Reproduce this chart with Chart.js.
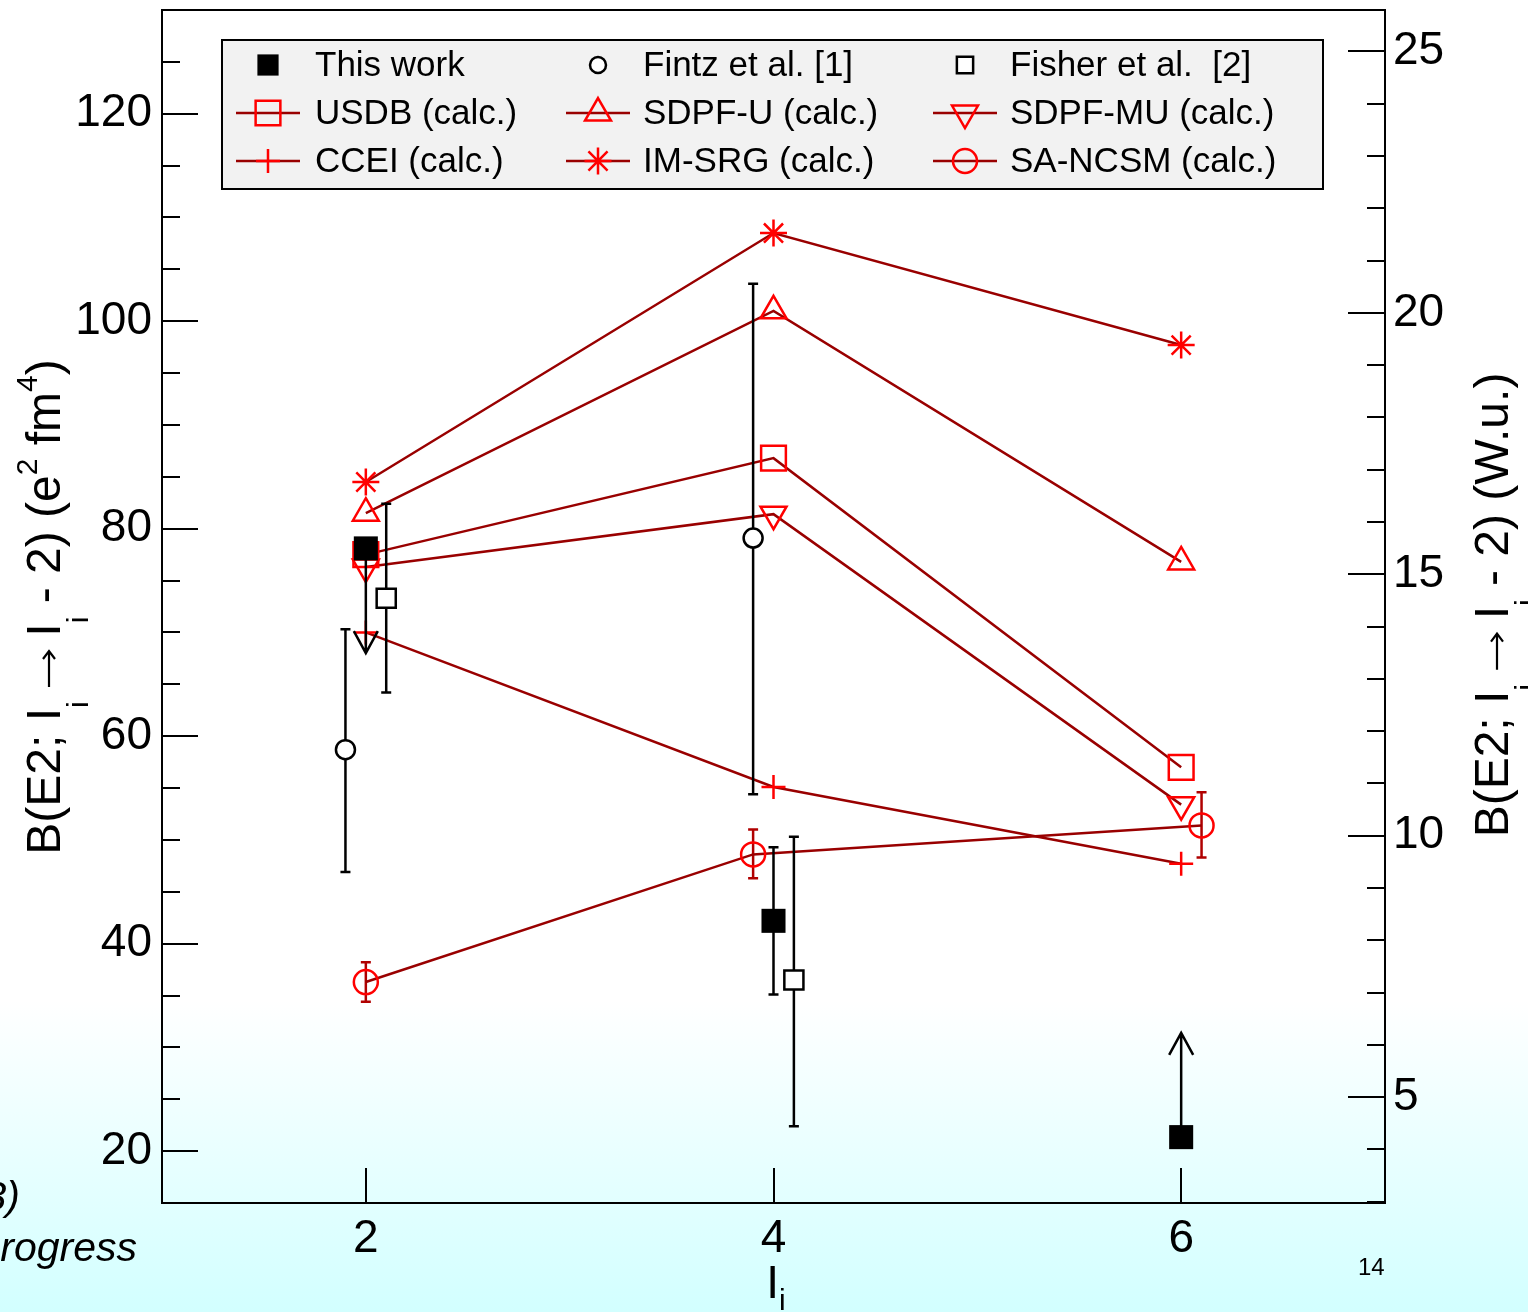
<!DOCTYPE html>
<html>
<head>
<meta charset="utf-8">
<script src="https://cdn.jsdelivr.net/npm/chart.js@4.4.1/dist/chart.umd.min.js"></script>
<style>
html, body { margin: 0; padding: 0; }
body {
  width: 1528px; height: 1312px; overflow: hidden; position: relative;
  background: linear-gradient(to bottom, #ffffff 0px, #ffffff 1000px, #d2ffff 1312px);
  font-family: "Liberation Sans", Arial, sans-serif;
}
#wrap { position: absolute; left: 0; top: 0; width: 1528px; height: 1312px; }
.side { position: absolute; font-style: italic; font-size: 41px; line-height: 41px; white-space: nowrap; color: #000; }
#pg { position: absolute; left: 1358px; top: 1255px; font-size: 24px; line-height: 24px; }
</style>
</head>
<body>
<div id="wrap"><canvas id="chart" width="1528" height="1312"></canvas></div>
<div class="side" style="right:1508px; top:1176px;">3)</div>
<div class="side" style="right:1391px; top:1227px;">rogress</div>
<div id="pg">14</div>
<script>
'use strict';
// spin values I_i
const xCalc = [2, 4, 6];
const xTicks = [2, 4, 6];

// experiment (e2 fm4)
const thisWorkX = [2, 4, 6];
const thisWork = [78.1, 42.2, 21.35];
const thisWorkLo = [null, 35.1, null];
const thisWorkHi = [null, 49.3, null];
const thisWorkLimit = [68.0, null, 31.4];

const fintzX = [1.9, 3.9];
const fintz = [58.7, 79.1];
const fintzLo = [46.9, 54.4];
const fintzHi = [70.3, 103.6];

const fisherX = [2.1, 4.1];
const fisher = [73.3, 36.5];
const fisherLo = [64.2, 22.4];
const fisherHi = [82.4, 50.3];

// calculations
const usdb = [77.5, 86.8, 57.0];
const sdpfU = [81.5, 101.0, 76.8];
const sdpfMU = [76.3, 81.4, 53.4];
const ccei = [70.0, 55.1, 47.7];
const imsrg = [84.5, 108.5, 97.7];
const saNcsmX = [2, 3.9, 6.1];
const saNcsm = [36.3, 48.6, 51.4];
const saNcsmLo = [34.4, 46.3, 48.3];
const saNcsmHi = [38.2, 51.0, 54.6];

// axes
const leftMin = 15, leftMax = 130;
const wuFactor = 5.04;   // e2fm4 per W.u.

const pts = (xs, ys) => xs.map((x, i) => ({x: x, y: ys[i]}));

const calcLine = '#990000';
const calcMark = '#ff0000';

function calcSet(label, data, style, radius, rot) {
  return {
    label: label, data: data, showLine: true,
    borderColor: calcLine, borderWidth: 2.5,
    pointStyle: style, pointRadius: radius, pointRotation: rot || 0,
    pointBorderColor: calcMark, pointBackgroundColor: 'rgba(0,0,0,0)', pointBorderWidth: 2.5
  };
}

const datasets = [
  {label: 'This work', data: pts(thisWorkX, thisWork), pointStyle: 'rect', pointRadius: 17,
   pointBackgroundColor: '#000', pointBorderColor: '#000', pointBorderWidth: 0,
   errLo: thisWorkLo, errHi: thisWorkHi, limitTo: thisWorkLimit, errColor: '#000', legR: 15},
  {label: 'Fintz et al. [1]', data: pts(fintzX, fintz), pointStyle: 'circle', pointRadius: 9.5,
   pointBackgroundColor: '#fff', pointBorderColor: '#000', pointBorderWidth: 2.5,
   errLo: fintzLo, errHi: fintzHi, errColor: '#000', legR: 8},
  {label: 'Fisher et al.  [2]', data: pts(fisherX, fisher), pointStyle: 'rect', pointRadius: 13.5,
   pointBackgroundColor: '#fff', pointBorderColor: '#000', pointBorderWidth: 2.5,
   errLo: fisherLo, errHi: fisherHi, errColor: '#000', legR: 11.5},
  calcSet('USDB (calc.)', pts(xCalc, usdb), 'rect', 17.5),
  calcSet('SDPF-U (calc.)', pts(xCalc, sdpfU), 'triangle', 15),
  calcSet('SDPF-MU (calc.)', pts(xCalc, sdpfMU), 'triangle', 15, 180),
  calcSet('CCEI (calc.)', pts(xCalc, ccei), 'cross', 12),
  calcSet('IM-SRG (calc.)', pts(xCalc, imsrg), 'star', 13.5),
  Object.assign(calcSet('SA-NCSM (calc.)', pts(saNcsmX, saNcsm), 'circle', 12),
    {errLo: saNcsmLo, errHi: saNcsmHi, errColor: '#b00000'})
];

const errorBars = {
  id: 'errorBars',
  beforeDatasetDraw(chart, args) {
    const ds = chart.data.datasets[args.index];
    if (!ds.errLo && !ds.limitTo) return;
    const ctx = chart.ctx, xs = chart.scales.x, ys = chart.scales.y;
    ctx.save();
    ctx.strokeStyle = ds.errColor; ctx.lineWidth = 2.5;
    ds.data.forEach((p, i) => {
      const px = xs.getPixelForValue(p.x);
      if (ds.errLo && ds.errLo[i] != null) {
        const y1 = ys.getPixelForValue(ds.errLo[i]), y2 = ys.getPixelForValue(ds.errHi[i]);
        ctx.beginPath();
        ctx.moveTo(px, y1); ctx.lineTo(px, y2);
        ctx.moveTo(px - 5, y1); ctx.lineTo(px + 5, y1);
        ctx.moveTo(px - 5, y2); ctx.lineTo(px + 5, y2);
        ctx.stroke();
      }
      if (ds.limitTo && ds.limitTo[i] != null) {
        const y0 = ys.getPixelForValue(p.y), yt = ys.getPixelForValue(ds.limitTo[i]);
        const dir = yt > y0 ? -1 : 1;
        ctx.beginPath();
        ctx.moveTo(px, y0); ctx.lineTo(px, yt);
        ctx.moveTo(px - 12, yt + dir * 22); ctx.lineTo(px, yt); ctx.lineTo(px + 12, yt + dir * 22);
        ctx.stroke();
      }
    });
    ctx.restore();
  }
};

const frameTicks = {
  id: 'frameTicks',
  afterDatasetsDraw(chart) {
    const ctx = chart.ctx, a = chart.chartArea;
    const y = chart.scales.y, y2 = chart.scales.y2, x = chart.scales.x;
    ctx.save();
    ctx.strokeStyle = '#000'; ctx.lineWidth = 2;
    ctx.beginPath();
    y.ticks.forEach(t => {
      if (t.value <= leftMin || t.value >= leftMax) return;
      const p = Math.round(y.getPixelForValue(t.value));
      ctx.moveTo(a.left, p); ctx.lineTo(a.left + (t.value % 20 === 0 ? 36 : 18), p);
    });
    y2.ticks.forEach(t => {
      const p = Math.round(y2.getPixelForValue(t.value));
      if (p <= a.top + 1) return;
      ctx.moveTo(a.right, p); ctx.lineTo(a.right - (t.value % 5 === 0 ? 37 : 18), p);
    });
    x.ticks.forEach(t => {
      const p = Math.round(x.getPixelForValue(t.value));
      ctx.moveTo(p, a.bottom); ctx.lineTo(p, a.bottom - 35);
    });
    ctx.stroke();
    ctx.strokeRect(a.left, a.top, a.right - a.left, a.bottom - a.top);
    ctx.restore();
  }
};

// parts: {t} plain, {t, dy} sub/superscript, {arrow: length}
function richText(ctx, parts, cx, cy, rot, size, small) {
  ctx.save();
  ctx.translate(cx, cy); ctx.rotate(rot);
  ctx.fillStyle = '#000'; ctx.strokeStyle = '#000';
  ctx.textBaseline = 'alphabetic'; ctx.textAlign = 'left';
  let w = 0;
  parts.forEach(p => {
    if (p.arrow) { p.w = p.arrow; }
    else {
      ctx.font = (p.dy ? small : size) + 'px "Liberation Sans", Arial, sans-serif';
      p.w = ctx.measureText(p.t).width;
    }
    w += p.w;
  });
  let u = -w / 2;
  parts.forEach(p => {
    if (p.arrow) {
      const h = -11;
      ctx.lineWidth = 2.2;
      ctx.beginPath();
      ctx.moveTo(u + 1, h); ctx.lineTo(u + p.w - 1, h);
      ctx.moveTo(u + p.w - 9, h - 6); ctx.lineTo(u + p.w - 1, h); ctx.lineTo(u + p.w - 9, h + 6);
      ctx.stroke();
    } else {
      ctx.font = (p.dy ? small : size) + 'px "Liberation Sans", Arial, sans-serif';
      ctx.fillText(p.t, u, p.dy || 0);
    }
    u += p.w;
  });
  ctx.restore();
}

const titles = {
  id: 'titles',
  afterDraw(chart) {
    const ctx = chart.ctx;
    const sub = 28, sup = -23;
    richText(ctx, [{t: 'B(E2; I'}, {t: 'i', dy: sub}, {t: ' '}, {arrow: 38}, {t: ' I'}, {t: 'i', dy: sub},
      {t: ' - 2) (e'}, {t: '2', dy: sup}, {t: ' fm'}, {t: '4', dy: sup}, {t: ')'}],
      60, 607, -Math.PI / 2, 48, 30);
    richText(ctx, [{t: 'B(E2; I'}, {t: 'i', dy: sub}, {t: ' '}, {arrow: 38}, {t: ' I'}, {t: 'i', dy: sub},
      {t: ' - 2) (W.u.)'}], 1508, 605, -Math.PI / 2, 48, 30);
    richText(ctx, [{t: 'I'}, {t: 'i', dy: 12}], 776, 1298, 0, 46, 30);
  }
};

const legendRows = [
  [0, 1, 2],
  [3, 4, 5],
  [6, 7, 8]
];

const boxLegend = {
  id: 'boxLegend',
  afterDraw(chart) {
    const ctx = chart.ctx, a = chart.chartArea;
    const bx = a.left + 60, by = a.top + 30, bw = 1101, bh = 149;
    const colSym = [46, 376, 743], colTxt = [93, 421, 788], rowY = [25, 73, 121];
    ctx.save();
    ctx.fillStyle = '#f2f2f2';
    ctx.fillRect(bx, by, bw, bh);
    ctx.strokeStyle = '#000'; ctx.lineWidth = 2;
    ctx.strokeRect(bx, by, bw, bh);
    ctx.font = '35px "Liberation Sans", Arial, sans-serif';
    ctx.textBaseline = 'middle'; ctx.textAlign = 'left';
    legendRows.forEach((row, r) => row.forEach((di, c) => {
      const ds = chart.data.datasets[di];
      const sx = bx + colSym[c], sy = by + rowY[r];
      if (ds.showLine) {
        ctx.strokeStyle = ds.borderColor; ctx.lineWidth = ds.borderWidth;
        ctx.beginPath(); ctx.moveTo(sx - 32, sy); ctx.lineTo(sx + 32, sy); ctx.stroke();
      }
      ctx.strokeStyle = ds.pointBorderColor; ctx.fillStyle = ds.pointBackgroundColor;
      ctx.lineWidth = ds.pointBorderWidth;
      Chart.helpers.drawPoint(ctx, {
        pointStyle: ds.pointStyle, rotation: ds.pointRotation || 0,
        radius: ds.legR || ds.pointRadius, borderWidth: ds.pointBorderWidth
      }, sx, sy);
      ctx.fillStyle = '#000';
      ctx.fillText(ds.label, bx + colTxt[c], sy + 1);
    }));
    ctx.restore();
  }
};

const tickFont = {family: '"Liberation Sans", Arial, sans-serif', size: 46};
const noPadY = s => { s.paddingTop = 0; s.paddingBottom = 0; };

new Chart(document.getElementById('chart'), {
  type: 'scatter',
  data: {datasets: datasets},
  plugins: [errorBars, frameTicks, titles, boxLegend],
  options: {
    responsive: false, animation: false, events: [], devicePixelRatio: 1,
    layout: {autoPadding: false, padding: {top: 10, left: 0, right: 0, bottom: 0}},
    plugins: {legend: {display: false}, tooltip: {enabled: false}},
    elements: {line: {tension: 0}},
    scales: {
      x: {
        type: 'linear', min: 1, max: 7,
        afterBuildTicks: s => { s.ticks = xTicks.map(v => ({value: v})); },
        afterFit: s => { s.height = 109; s.paddingLeft = 0; s.paddingRight = 0; },
        grid: {display: false, drawTicks: false}, border: {display: false},
        ticks: {font: tickFont, color: '#000', padding: 9, autoSkip: false}
      },
      y: {
        type: 'linear', position: 'left', min: leftMin, max: leftMax,
        afterFit: s => { s.width = 162; noPadY(s); },
        grid: {display: false, drawTicks: false}, border: {display: false},
        ticks: {stepSize: 5, autoSkip: false, includeBounds: false, font: tickFont, color: '#000', padding: 10,
                callback: v => (v % 20 === 0 ? v : '')}
      },
      y2: {
        type: 'linear', position: 'right', min: leftMin / wuFactor, max: leftMax / wuFactor,
        afterFit: s => { s.width = 143; noPadY(s); },
        grid: {display: false, drawTicks: false}, border: {display: false},
        ticks: {stepSize: 1, autoSkip: false, includeBounds: false, font: tickFont, color: '#000', padding: 8,
                callback: v => (v % 5 === 0 ? v : '')}
      }
    }
  }
});
</script>
</body>
</html>
